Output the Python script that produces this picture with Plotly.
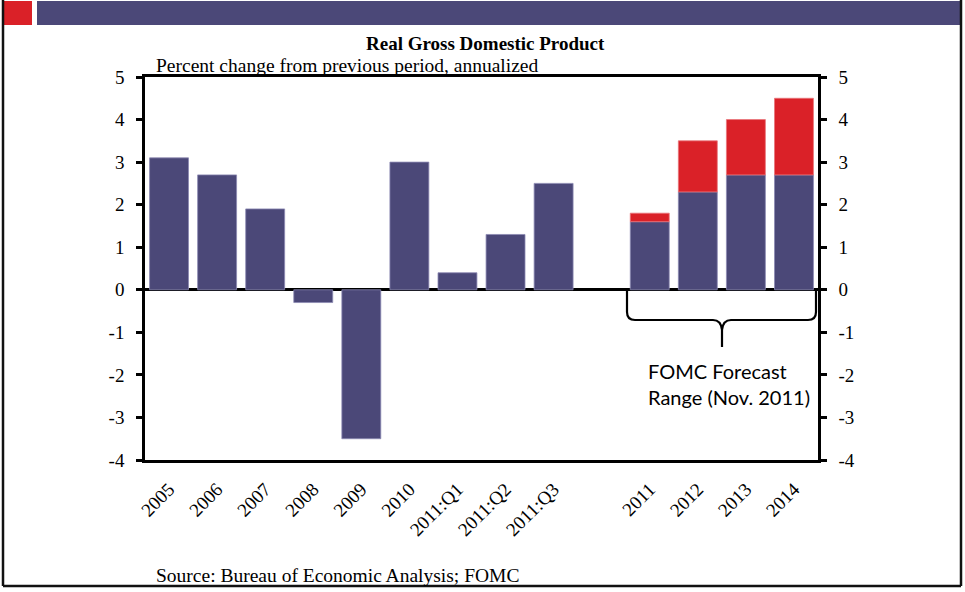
import plotly.graph_objects as go

categories = ["2005", "2006", "2007", "2008", "2009", "2010", "2011:Q1", "2011:Q2", "2011:Q3",
              " ", "2011", "2012", "2013", "2014"]
actual = [3.1, 2.7, 1.9, -0.3, -3.5, 3.0, 0.4, 1.3, 2.5, None, 1.6, 2.3, 2.7, 2.7]
forecast_range = [None, None, None, None, None, None, None, None, None, None, 0.2, 1.2, 1.3, 1.8]
y_ticks = [-4, -3, -2, -1, 0, 1, 2, 3, 4, 5]

BLUE = "#4B4878"
RED = "#DA2128"
SERIF = "Liberation Serif, Times New Roman, serif"

W, H = 965, 592
L, R, T, B = 145, 818, 77, 460


def px(x):
    return (x - L) / (R - L)


def py(y):
    return (B - y) / (B - T)


fig = go.Figure()
fig.add_trace(go.Bar(x=categories, y=actual, marker=dict(color=BLUE, line=dict(color="#8C89B3", width=0.8)),
                     showlegend=False, hoverinfo="skip"))
fig.add_trace(go.Bar(x=categories, y=forecast_range, marker=dict(color=RED, line=dict(color="#E8757A", width=0.8)),
                     showlegend=False, hoverinfo="skip"))
fig.add_trace(go.Scatter(x=[categories[0]], y=[0], yaxis="y2", mode="markers",
                         marker=dict(opacity=0, size=1), showlegend=False, hoverinfo="skip"))

axis_font = dict(family=SERIF, size=19, color="black")

fig.update_layout(
    width=W, height=H,
    margin=dict(l=L, r=W - R, t=T, b=H - B),
    paper_bgcolor="white", plot_bgcolor="white",
    barmode="relative", bargap=0.19,
    xaxis=dict(type="category", categoryorder="array", categoryarray=categories,
               range=[-0.5, len(categories) - 0.5], autorange=False,
               tickangle=-45, tickfont=dict(family=SERIF, size=19, color="black"),
               showline=True, linecolor="black", linewidth=2.5, mirror=True,
               ticks="", showgrid=False, zeroline=False, ticklabelstandoff=8),
    yaxis=dict(range=[-4, 5], tickvals=y_ticks, ticktext=[str(v) for v in y_ticks],
               tickfont=axis_font, ticks="outside", ticklen=6, tickwidth=2.5, tickcolor="black",
               showline=True, linecolor="black", linewidth=2.5, showgrid=False,
               zeroline=True, zerolinecolor="black", zerolinewidth=2.5, ticklabelstandoff=8),
    yaxis2=dict(range=[-4, 5], tickvals=y_ticks, ticktext=[str(v) for v in y_ticks],
                overlaying="y", side="right",
                tickfont=axis_font, ticks="outside", ticklen=6, tickwidth=2.5, tickcolor="black",
                showline=True, linecolor="black", linewidth=2.5, showgrid=False, zeroline=False,
                ticklabelstandoff=8),
)

shapes = []
# banner
shapes.append(dict(type="rect", xref="paper", yref="paper", x0=px(3), x1=px(32), y0=py(25), y1=py(1),
                   fillcolor=RED, line=dict(width=0), layer="above"))
shapes.append(dict(type="rect", xref="paper", yref="paper", x0=px(37), x1=px(960), y0=py(25), y1=py(1),
                   fillcolor=BLUE, line=dict(width=0), layer="above"))
# outer frame
for (x0, y0, x1, y1) in [(3, 0, 3, 586), (3, 586, 961, 586), (961, 0, 961, 586)]:
    shapes.append(dict(type="line", xref="paper", yref="paper", x0=px(x0), y0=py(y0), x1=px(x1), y1=py(y1),
                       line=dict(color="#111111", width=2.5), layer="above"))

# curly brace
def P(x, y):
    return f"{px(x):.5f},{py(y):.5f}"

brace = (f"M {P(627,290)} L {P(627,312)} Q {P(627,320)} {P(635,320)} L {P(713,320)} "
         f"Q {P(721,320)} {P(722,330)} L {P(722,347)} "
         f"M {P(722,330)} Q {P(723,320)} {P(731,320)} L {P(808,320)} "
         f"Q {P(816,320)} {P(816,312)} L {P(816,290)}")
shapes.append(dict(type="path", xref="paper", yref="paper", path=brace,
                   line=dict(color="black", width=2.2), layer="above"))
fig.update_layout(shapes=shapes)

annotations = [
    dict(text="<b>Real Gross Domestic Product</b>", xref="paper", yref="paper", x=px(485), y=py(43),
         xanchor="center", yanchor="middle", showarrow=False, font=dict(family=SERIF, size=19, color="black")),
    dict(text="Percent change from previous period, annualized", xref="paper", yref="paper",
         x=px(154), y=py(65), xanchor="left", yanchor="middle", showarrow=False,
         font=dict(family=SERIF, size=19.5, color="black")),
    dict(text="FOMC Forecast<br>Range (Nov. 2011)", xref="paper", yref="paper",
         x=px(646), y=py(384), xanchor="left", yanchor="middle", align="left", showarrow=False,
         font=dict(family="Lato, Carlito, sans-serif", size=20, color="black")),
    dict(text="Source: Bureau of Economic Analysis; FOMC", xref="paper", yref="paper",
         x=px(154), y=py(575), xanchor="left", yanchor="middle", showarrow=False,
         font=dict(family=SERIF, size=19.5, color="black")),
]
fig.update_layout(annotations=annotations)

fig.write_html("out.html", config={"displayModeBar": False},
               post_script="document.body.style.margin='0';document.body.style.overflow='hidden';")
